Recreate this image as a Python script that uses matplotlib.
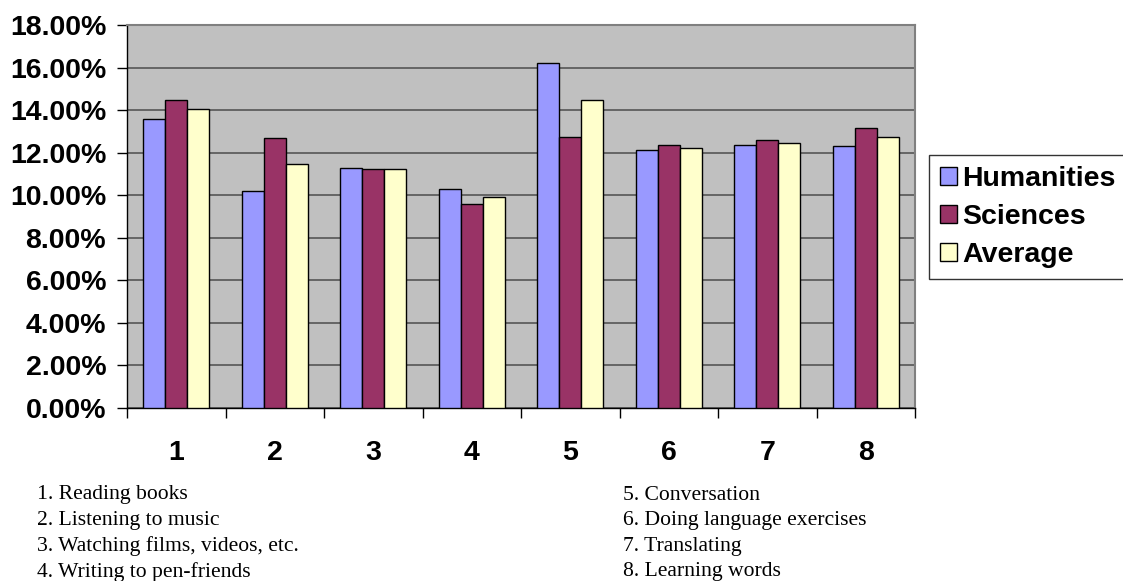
import matplotlib
matplotlib.use("Agg")
import matplotlib.pyplot as plt
import numpy as np
from matplotlib.ticker import FixedLocator, PercentFormatter

categories = ["1", "2", "3", "4", "5", "6", "7", "8"]
humanities = [13.59, 10.22, 11.30, 10.28, 16.23, 12.11, 12.34, 12.30]
sciences = [14.47, 12.70, 11.24, 9.59, 12.72, 12.34, 12.58, 13.16]
average = [14.05, 11.45, 11.24, 9.92, 14.47, 12.22, 12.47, 12.72]
series_names = ["Humanities", "Sciences", "Average"]
notes_left = ["1. Reading books", "2. Listening to music",
              "3. Watching films, videos, etc.", "4. Writing to pen-friends"]
notes_right = ["5. Conversation", "6. Doing language exercises",
               "7. Translating", "8. Learning words"]

colors = ["#9999FF", "#993366", "#FFFFCC"]
W, H = 1123, 581
fig = plt.figure(figsize=(W / 100, H / 100), dpi=100)
ax = fig.add_axes([127 / W, 1 - 408 / H, 788 / W, 383 / H])
ax.set_facecolor("#C0C0C0")

x = np.arange(len(categories))
bw = 0.224
for i, (vals, c, name) in enumerate(zip([humanities, sciences, average], colors, series_names)):
    ax.bar(x + (i - 1) * bw, vals, width=bw, color=c, edgecolor="black",
           linewidth=1.0, label=name, zorder=3)

ax.set_xlim(-0.5, len(categories) - 0.5)
ax.set_ylim(0, 18)
ax.set_yticks(np.arange(0, 18.01, 2))
ax.yaxis.set_major_formatter(PercentFormatter(decimals=2))
ax.yaxis.grid(True, color="#4d4d4d", linewidth=1.1, zorder=1)
ax.set_axisbelow(True)

ax.set_xticks(x)
ax.set_xticklabels(categories)
ax.xaxis.set_minor_locator(FixedLocator(np.arange(-0.5, len(categories), 1.0)))
ax.tick_params(axis="x", which="major", length=0, pad=23)
ax.tick_params(axis="x", which="minor", length=7, width=1, direction="out")
ax.tick_params(axis="y", length=7, width=1, pad=8, direction="out")

font = "Liberation Sans"
for lab in ax.get_xticklabels() + ax.get_yticklabels():
    lab.set_fontfamily(font)
    lab.set_fontweight("bold")
    lab.set_fontsize(20.5)

for s in ["top", "right"]:
    ax.spines[s].set_color("#808080")
    ax.spines[s].set_linewidth(1.5)
for s in ["left", "bottom"]:
    ax.spines[s].set_color("black")
    ax.spines[s].set_linewidth(1.0)

leg = fig.legend(loc="upper left", bbox_to_anchor=(929 / W, 1 - 155 / H),
                 prop={"family": font, "weight": "bold", "size": 20.5},
                 frameon=True, fancybox=False, edgecolor="black",
                 handlelength=0.6, handleheight=0.6, handletextpad=0.2,
                 labelspacing=0.43, borderpad=0.38, borderaxespad=0)
leg.get_frame().set_linewidth(1.0)

serif = "Liberation Serif"
for j, t in enumerate(notes_left):
    fig.text(37 / W, 1 - (495 + j * 25.6) / H, t, family=serif, fontsize=15.6,
             va="center", ha="left")
for j, t in enumerate(notes_right):
    fig.text(623 / W, 1 - (495 + j * 25.6) / H, t, family=serif, fontsize=15.6,
             va="center", ha="left")

fig.savefig("out.png", dpi=100)
